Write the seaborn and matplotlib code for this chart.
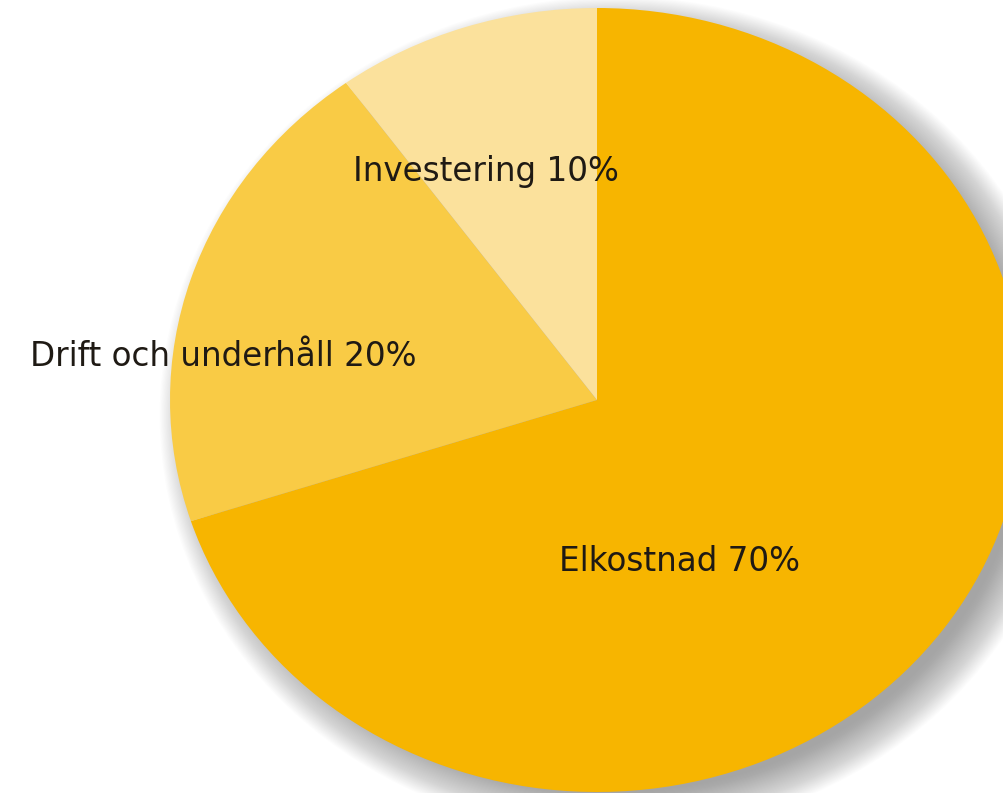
import matplotlib
matplotlib.use("Agg")
import matplotlib.pyplot as plt
from matplotlib.patches import Ellipse
import seaborn as sns

# Data
labels = ["Elkostnad", "Drift och underhåll", "Investering"]
shares = [70, 20, 10]
colors = ["#F7B500", "#F9CB45", "#FBE19C"]

# Label anchors (data units, pie radius = 1)
label_x = [0.194, -0.876, -0.26]
label_y = [-0.413, 0.11, 0.582]

sns.set_theme(style="white")
plt.rcParams["font.family"] = ["DejaVu Sans"]

fig = plt.figure(figsize=(10.04, 7.93), dpi=100)
ax = fig.add_axes([0, 0, 1, 1])

# Soft, wide drop shadow, offset to the lower right
for i in range(40):
    r = 0.96 + i * 0.0028
    ax.add_patch(Ellipse((0.045, -0.04), 2 * r, 2 * r,
                         facecolor="#808080", edgecolor="none",
                         alpha=0.022, zorder=0))

ax.pie(shares, colors=colors, startangle=90, counterclock=False,
       radius=1, wedgeprops=dict(linewidth=0, zorder=2))

for lab, s, x, y in zip(labels, shares, label_x, label_y):
    ax.text(x, y, f"{lab} {s}%", ha="center", va="center",
            fontsize=23.5, color="#1f1a14", zorder=5)

# Stretch the pie into the slightly wide ellipse of the original
px_x, px_y = 427, 392
ax.set_aspect("auto")
ax.set_xlim(-597 / px_x, (1004 - 597) / px_x)
ax.set_ylim(-(793 - 400) / px_y, 400 / px_y)
ax.axis("off")

fig.savefig("out.png", dpi=100, facecolor="white")
